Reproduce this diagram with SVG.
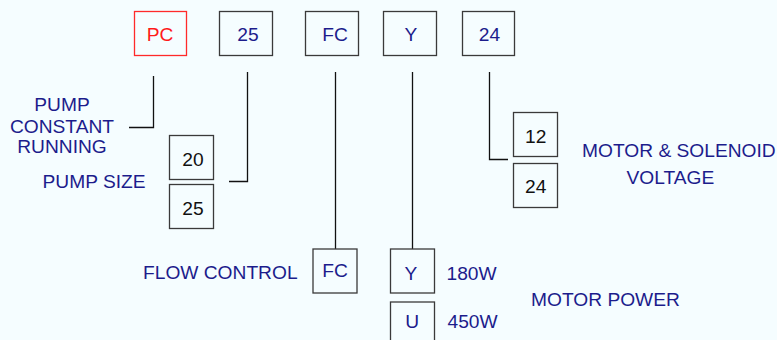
<svg xmlns="http://www.w3.org/2000/svg" width="777" height="340" viewBox="0 0 777 340">
<style>
text{font-family:"Liberation Sans",Arial,sans-serif;font-size:19.2px;fill:#1c1c8c}
.c{text-anchor:middle}
.k{fill:#111111}
.r{fill:#ff1a1a}
.box{fill:none;stroke:#3a3a3a;stroke-width:1.3}
.rbox{fill:none;stroke:#ff2a2a;stroke-width:1.3}
.ln{fill:none;stroke:#111111;stroke-width:1.3}
</style>
<rect width="777" height="340" fill="#f5fdff"/>
<g id="top-pc"><rect class="rbox" x="134.5" y="11.5" width="52" height="44"/><text class="c r" x="160" y="41">PC</text></g>
<g id="top-25"><rect class="box" x="219.5" y="11.5" width="53" height="44"/><text class="c" x="248" y="41">25</text></g>
<g id="top-fc"><rect class="box" x="305.5" y="11.5" width="53" height="44"/><text class="c" x="335" y="41">FC</text></g>
<g id="top-y"><rect class="box" x="383.5" y="11.5" width="53" height="44"/><text class="c" x="411" y="41">Y</text></g>
<g id="top-24"><rect class="box" x="462.5" y="11.5" width="52" height="44"/><text class="c" x="489.5" y="41">24</text></g>
<g id="connectors">
<polyline class="ln" points="153.5,76 153.5,127.5 129,127.5"/>
<polyline class="ln" points="247.5,72 247.5,181.5 229,181.5"/>
<line class="ln" x1="335.5" y1="72" x2="335.5" y2="249"/>
<line class="ln" x1="412.5" y1="72" x2="412.5" y2="249"/>
<polyline class="ln" points="489.5,72 489.5,159.5 508,159.5"/>
</g>
<g id="label-pump-constant"><text class="c" x="62" y="111">PUMP</text><text class="c" x="62" y="132.5">CONSTANT</text><text class="c" x="62" y="152.5">RUNNING</text></g>
<g id="opt-20"><rect class="box" x="169.5" y="135.5" width="44" height="44"/><text class="c k" x="193" y="165.5">20</text></g>
<g id="opt-25"><rect class="box" x="169.5" y="184.5" width="44" height="44"/><text class="c k" x="193" y="215">25</text></g>
<g id="label-pump-size"><text x="42.5" y="188">PUMP SIZE</text></g>
<g id="opt-12"><rect class="box" x="513.5" y="112.5" width="44" height="44"/><text class="c k" x="535.7" y="142.5">12</text></g>
<g id="opt-24"><rect class="box" x="513.5" y="163.5" width="44" height="44"/><text class="c k" x="535.7" y="192.5">24</text></g>
<g id="label-voltage"><text x="582" y="156.5">MOTOR &amp; SOLENOID</text><text x="626.5" y="184">VOLTAGE</text></g>
<g id="opt-fc"><rect class="box" x="313" y="249" width="44" height="44"/><text class="c" x="335" y="276.5">FC</text></g>
<g id="label-flow"><text x="143" y="279">FLOW CONTROL</text></g>
<g id="opt-y"><rect class="box" x="390.5" y="249" width="44" height="44"/><text class="c" x="411" y="280">Y</text><text x="446.5" y="280">180W</text></g>
<g id="opt-u"><rect class="box" x="390.5" y="302" width="44" height="44"/><text class="c" x="412.3" y="328.3">U</text><text x="447.5" y="328.3">450W</text></g>
<g id="label-motor-power"><text x="531" y="306">MOTOR POWER</text></g>
</svg>
